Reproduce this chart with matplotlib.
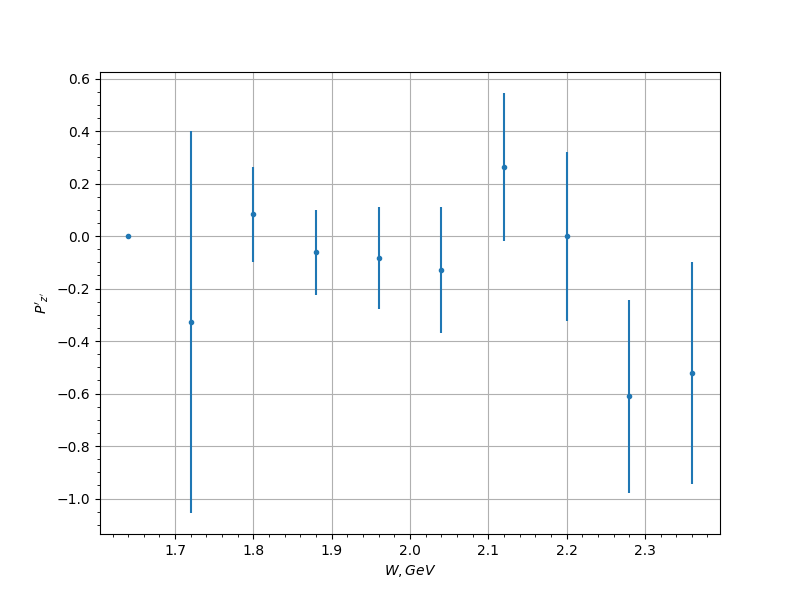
import matplotlib
matplotlib.use("Agg")
import matplotlib.pyplot as plt

# W bins (GeV) and polarisation values with symmetric errors
W = [1.64, 1.72, 1.80, 1.88, 1.96, 2.04, 2.12, 2.20, 2.28, 2.36]
P = [0.0, -0.328, 0.083, -0.061, -0.084, -0.130, 0.263, 0.0, -0.610, -0.521]
P_err = [0.0, 0.727, 0.182, 0.162, 0.194, 0.240, 0.282, 0.322, 0.367, 0.422]

fig, ax = plt.subplots(figsize=(8, 6), dpi=100)
ax.errorbar(W, P, yerr=P_err, fmt=".")
ax.set_xlabel("$W, GeV$")
ax.set_ylabel("$P'_{z'}$")
ax.minorticks_on()
ax.grid()

fig.savefig("out.png", dpi=100)
